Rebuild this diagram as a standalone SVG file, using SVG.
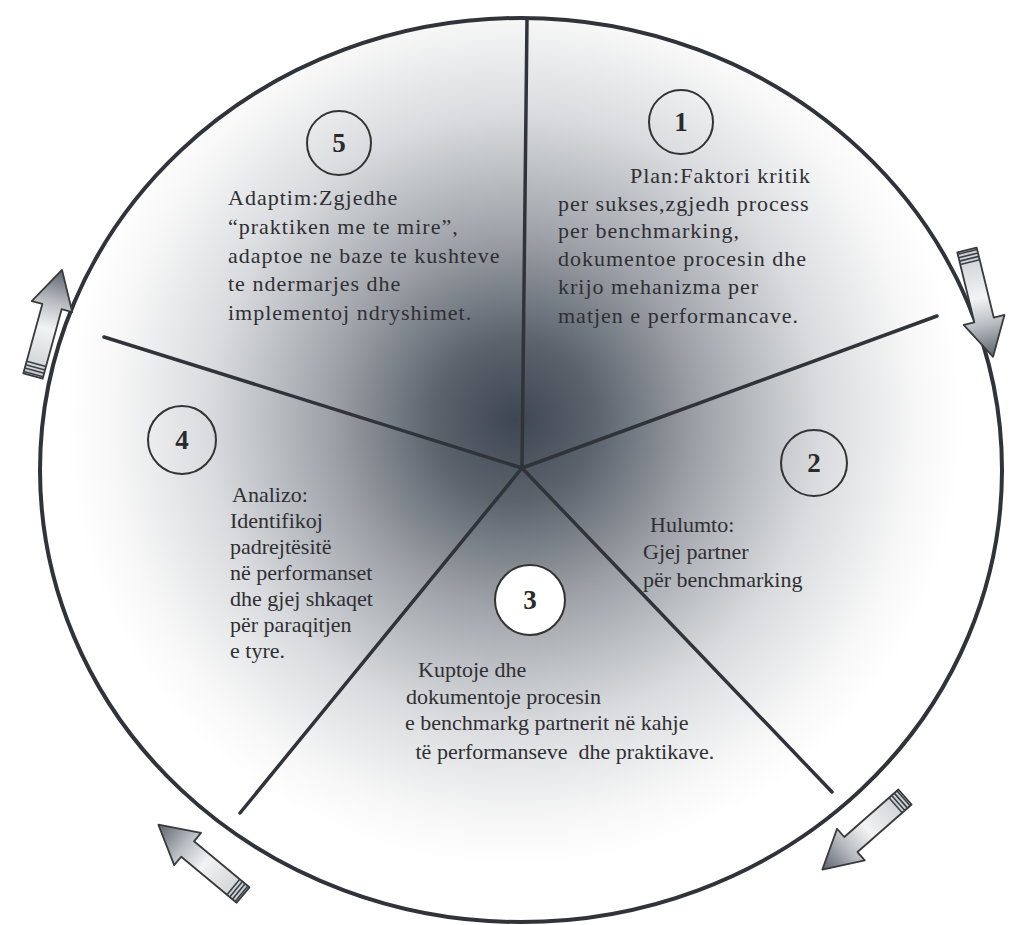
<svg xmlns="http://www.w3.org/2000/svg" xmlns:xlink="http://www.w3.org/1999/xlink" width="1011" height="925" viewBox="0 0 1011 925">
<style>
.t{font-family:"Liberation Serif","Times New Roman",serif;font-size:22px;fill:#2f2f33}
.w{letter-spacing:1px}
.num{font-family:"Liberation Serif","Times New Roman",serif;font-size:27px;font-weight:bold;fill:#2a2a2a;text-anchor:middle}
.badge{fill:none;stroke:#333;stroke-width:2}
.rim{stroke:#30343a;stroke-width:4;fill:url(#shade)}
.spoke{stroke:#30343a;stroke-width:3.5;fill:none;stroke-linecap:round}
.arrow{fill:url(#agrad);stroke:#3a3a3a;stroke-width:1.8;stroke-linejoin:round}
.stripe{stroke:#3a4048;stroke-width:1.6}
</style>
<defs>
<radialGradient id="shade" gradientUnits="userSpaceOnUse" cx="515" cy="420" r="450">
<stop offset="0" stop-color="#3e4652"/>
<stop offset="0.18" stop-color="#5c636d"/>
<stop offset="0.42" stop-color="#a0a4aa"/>
<stop offset="0.68" stop-color="#d9dbde"/>
<stop offset="0.9" stop-color="#f8f8f8"/>
<stop offset="1" stop-color="#ffffff"/>
</radialGradient>
<linearGradient id="agrad" x1="0" y1="0" x2="110" y2="0" gradientUnits="userSpaceOnUse">
<stop offset="0" stop-color="#c9ccd0"/>
<stop offset="0.45" stop-color="#f2f3f4"/>
<stop offset="0.7" stop-color="#b9bdc2"/>
<stop offset="1" stop-color="#5c636d"/>
</linearGradient>
<g id="barrow">
<polygon class="arrow" points="0,-10 72,-10 72,-21 110,0 72,21 72,10 0,10"/>
<line class="stripe" x1="2" y1="-10" x2="2" y2="10"/>
<line class="stripe" x1="5.5" y1="-10" x2="5.5" y2="10"/>
<line class="stripe" x1="9" y1="-10" x2="9" y2="10"/>
<line class="stripe" x1="12.5" y1="-10" x2="12.5" y2="10"/>
</g>
</defs>
<rect width="1011" height="925" fill="#ffffff"/>
<g id="wheel">
<ellipse class="rim" cx="521" cy="470" rx="481" ry="452"/>
<line class="spoke" x1="522" y1="468" x2="527" y2="19"/>
<line class="spoke" x1="522" y1="468" x2="937" y2="316"/>
<line class="spoke" x1="522" y1="468" x2="832" y2="792"/>
<line class="spoke" x1="522" y1="468" x2="240" y2="813"/>
<line class="spoke" x1="522" y1="468" x2="104" y2="337"/>
</g>
<g id="step1">
<circle class="badge" cx="681" cy="122" r="32"/>
<text class="num" x="681" y="131">1</text>
<text class="t w" x="630" y="183">Plan:Faktori kritik</text>
<text class="t w" x="558" y="211">per sukses,zgjedh process</text>
<text class="t w" x="558" y="238">per benchmarking,</text>
<text class="t w" x="558" y="266">dokumentoe procesin dhe</text>
<text class="t w" x="558" y="294">krijo mehanizma per</text>
<text class="t w" x="558" y="323">matjen e performancave.</text>
</g>
<g id="step2">
<circle class="badge" cx="814" cy="463" r="33"/>
<text class="num" x="814" y="472">2</text>
<text class="t" x="650" y="532">Hulumto:</text>
<text class="t" x="643" y="559">Gjej partner</text>
<text class="t" x="643" y="587">për benchmarking</text>
</g>
<g id="step3">
<circle cx="530" cy="600" r="35" fill="#ffffff" stroke="#333" stroke-width="2"/>
<text class="num" x="530" y="609">3</text>
<text class="t" x="418" y="677">Kuptoje dhe</text>
<text class="t" x="406" y="704">dokumentoje procesin</text>
<text class="t" x="405" y="730">e benchmarkg partnerit në kahje</text>
<text class="t" x="410" y="759" xml:space="preserve"> të performanseve  dhe praktikave.</text>
</g>
<g id="step4">
<circle class="badge" cx="182" cy="440" r="34"/>
<text class="num" x="182" y="449">4</text>
<text class="t" x="232" y="502">Analizo:</text>
<text class="t" x="230" y="528">Identifikoj</text>
<text class="t" x="230" y="554">padrejtësitë</text>
<text class="t" x="230" y="580">në performanset</text>
<text class="t" x="230" y="606">dhe gjej shkaqet</text>
<text class="t" x="230" y="632">për paraqitjen</text>
<text class="t" x="230" y="658">e tyre.</text>
</g>
<g id="step5">
<circle class="badge" cx="339" cy="143" r="32"/>
<text class="num" x="339" y="152">5</text>
<text class="t w" x="228" y="205">Adaptim:Zgjedhe</text>
<text class="t w" x="228" y="234">“praktiken me te mire”,</text>
<text class="t w" x="228" y="263">adaptoe ne baze te kushteve</text>
<text class="t w" x="228" y="291">te ndermarjes dhe</text>
<text class="t w" x="228" y="320">implementoj ndryshimet.</text>
</g>
<g id="connectors">
<use xlink:href="#barrow" transform="translate(33,376) rotate(-74.7)"/>
<use xlink:href="#barrow" transform="translate(967,250) rotate(76.3)"/>
<use xlink:href="#barrow" transform="translate(905,797) rotate(138.7)"/>
<use xlink:href="#barrow" transform="translate(243,895) rotate(-140.3)"/>
</g>
</svg>
